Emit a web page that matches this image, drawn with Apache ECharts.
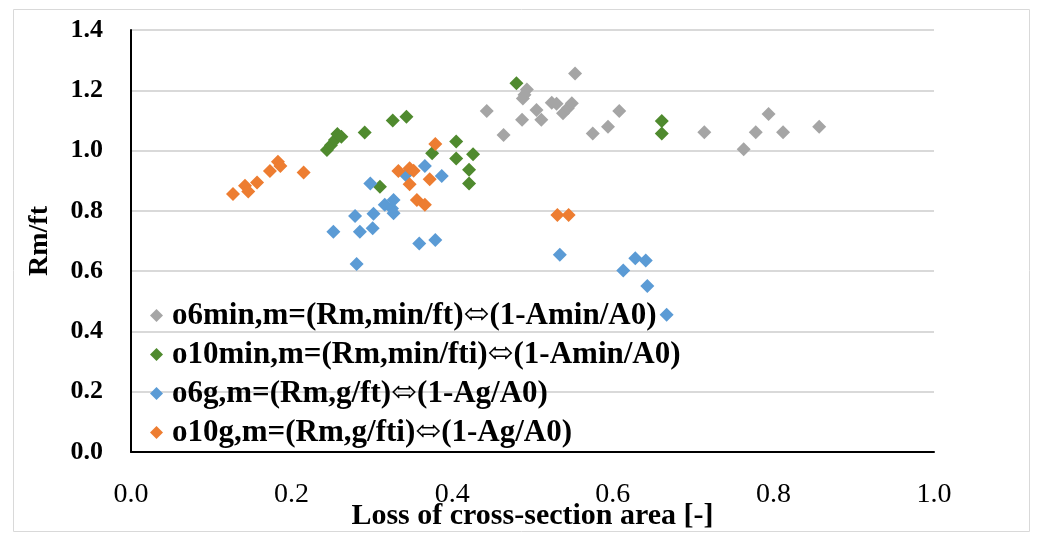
<!DOCTYPE html>
<html><head><meta charset="utf-8">
<script src="https://cdn.jsdelivr.net/npm/echarts@6/dist/echarts.min.js"></script>
<style>html,body{margin:0;padding:0;background:#fff}#c{width:1041px;height:536px}</style>
</head><body><div id="c"></div>
<script>
const seriesNames = [
  'o6min,m=(Rm,min/ft)⬄(1-Amin/A0)',
  'o10min,m=(Rm,min/fti)⬄(1-Amin/A0)',
  'o6g,m=(Rm,g/ft)⬄(1-Ag/A0)',
  'o10g,m=(Rm,g/fti)⬄(1-Ag/A0)'
];
const o6min = [[0.443,1.131],[0.464,1.052],[0.487,1.102],[0.488,1.173],[0.490,1.185],[0.493,1.203],[0.505,1.135],[0.511,1.102],[0.524,1.159],[0.530,1.155],[0.538,1.124],[0.544,1.140],[0.549,1.157],[0.553,1.256],[0.575,1.057],[0.594,1.079],[0.608,1.131],[0.714,1.061],[0.763,1.004],[0.778,1.061],[0.794,1.121],[0.812,1.061],[0.857,1.079]];
const o10min = [[0.244,1.002],[0.249,1.018],[0.254,1.035],[0.257,1.055],[0.262,1.046],[0.291,1.060],[0.310,0.880],[0.326,1.100],[0.343,1.112],[0.375,0.991],[0.405,1.030],[0.405,0.974],[0.421,0.936],[0.421,0.891],[0.426,0.988],[0.480,1.223],[0.661,1.098],[0.661,1.057]];
const o6g = [[0.252,0.731],[0.279,0.783],[0.281,0.624],[0.285,0.731],[0.298,0.891],[0.301,0.742],[0.302,0.790],[0.316,0.820],[0.325,0.808],[0.327,0.836],[0.327,0.792],[0.342,0.919],[0.359,0.692],[0.366,0.949],[0.379,0.703],[0.387,0.916],[0.534,0.654],[0.613,0.602],[0.628,0.643],[0.641,0.635],[0.643,0.551],[0.667,0.455]];
const o10g = [[0.127,0.856],[0.142,0.883],[0.146,0.864],[0.157,0.894],[0.173,0.932],[0.183,0.963],[0.186,0.949],[0.215,0.927],[0.333,0.932],[0.347,0.941],[0.352,0.933],[0.347,0.888],[0.356,0.836],[0.366,0.820],[0.372,0.905],[0.379,1.022],[0.531,0.786],[0.545,0.786]];
const xName = 'Loss of cross-section area [-]';
const yName = 'Rm/ft';
const colors = ['#A5A5A5','#4F8A2E','#5B9BD5','#ED7D31'];
const datasets = [o6min, o10min, o6g, o10g];

const FONT = '"Liberation Serif", "DejaVu Serif", serif';
const chart = echarts.init(document.getElementById('c'), null, {renderer:'canvas'});
chart.setOption({
  animation:false,
  color: colors,
  graphic:[{type:'rect', shape:{x:13.5,y:9.5,width:1016,height:522}, style:{fill:'none', stroke:'#D9D9D9', lineWidth:1}, z:-1}],
  grid:{left:131, right:107, top:30, bottom:84, containLabel:false, outerBoundsMode:'none'},
  legend:{
    orient:'vertical', left:145, top:295, itemGap:8,
    icon:'diamond', itemWidth:13, itemHeight:13,
    textStyle:{fontFamily:FONT, fontWeight:'bold', fontSize:31, color:'#000', padding:[0,0,0,4]},
    data: seriesNames
  },
  xAxis:{
    type:'value', min:0, max:1, interval:0.2,
    name:xName, nameLocation:'middle', nameGap:49, nameMoveOverlap:false,
    nameTextStyle:{fontFamily:FONT, fontWeight:'bold', fontSize:30, color:'#000'},
    axisLine:{show:true, onZero:false, lineStyle:{color:'#000', width:2}},
    axisTick:{show:false},
    splitLine:{show:false},
    axisLabel:{fontFamily:FONT, fontSize:28, color:'#000', margin:29, formatter:v=>v.toFixed(1)}
  },
  yAxis:{
    type:'value', min:0, max:1.4, interval:0.2,
    name:yName, nameLocation:'middle', nameGap:77, nameRotate:90, nameMoveOverlap:false,
    nameTextStyle:{fontFamily:FONT, fontWeight:'bold', fontSize:28, color:'#000'},
    axisLine:{show:true, lineStyle:{color:'#000', width:2}},
    axisTick:{show:false},
    splitLine:{show:true, lineStyle:{color:'#D9D9D9', width:2}},
    axisLabel:{fontFamily:FONT, fontWeight:'bold', fontSize:26, color:'#000', margin:28, formatter:v=>v.toFixed(1)}
  },
  series: datasets.map((d,i)=>({
    name: seriesNames[i], type:'scatter', symbol:'diamond', symbolSize:14,
    itemStyle:{color:colors[i], opacity:1}, data:d
  }))
});
</script></body></html>
